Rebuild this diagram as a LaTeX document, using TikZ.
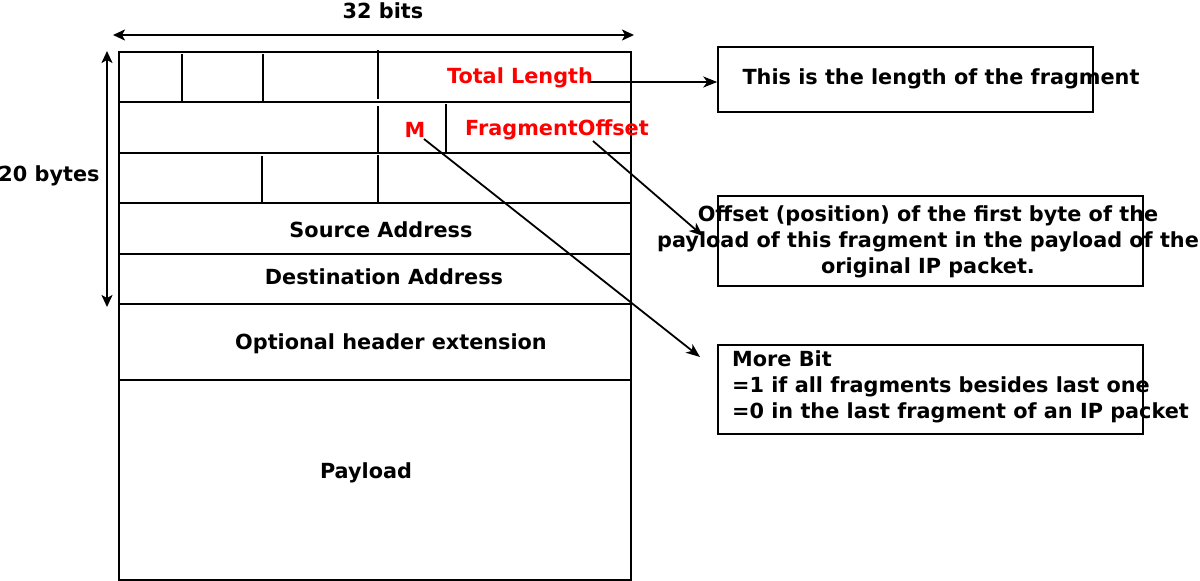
\documentclass[tikz,border=0pt]{standalone}
\usepackage{fontspec}
\setmainfont{DejaVu Sans}
\usetikzlibrary{arrows.meta}
\begin{document}
\begin{tikzpicture}[x=1pt,y=-1pt,
  grid/.style={line width=2pt,draw=black},
  lbl/.style={font=\bfseries\fontsize{20.8}{26}\selectfont,inner sep=0pt,yshift=-2pt},
  red lbl/.style={lbl,text=red},
  info/.style={draw=black,line width=1.5pt},
  ptr/.style={line width=1.8pt,-{Stealth[length=14pt,width=11pt,inset=4pt]}},
  dim/.style={line width=1.8pt,{Stealth[length=12pt,width=11pt,inset=3pt]}-{Stealth[length=12pt,width=11pt,inset=3pt]}}]
\useasboundingbox (0,0) rectangle (1200,581);
% main frame
\draw[grid] (119,52) rectangle (631,580);
\foreach \y in {102,153,203,254,304,380}{\draw[grid] (119,\y) -- (631,\y);}
% row 1 dividers
\draw[grid] (182,54) -- (182,102);
\draw[grid] (263,54) -- (263,102);
\draw[line width=2.6pt] (378,50) -- (378,99);
\draw[line width=2.6pt] (378,52) -- (631,52) -- (631,102) -- (378,102);
% row 2 dividers
\draw[grid] (378,106) -- (378,153);
\draw[grid] (446,104) -- (446,152);
% row 3 dividers
\draw[grid] (262,156) -- (262,203);
\draw[grid] (378,155) -- (378,203);
% dimension arrows
\coordinate (w1) at (113,35); \coordinate (w2) at (634,35);
\draw[dim] (w1) -- (w2);
\node[lbl] (bits) at (383,9) {32 bits};
\coordinate (h1) at (107,51); \coordinate (h2) at (107,307);
\draw[dim] (h1) -- (h2);
\node[lbl] (bytes) at (49,174) {20 bytes};
% field labels
\node[red lbl] (tl) at (520,76) {Total Length};
\node[red lbl] (m) at (415,128) {M};
\node[red lbl] (fo) at (557,128) {FragmentOffset};
\node[lbl] (src) at (381,228) {Source Address};
\node[lbl] (dst) at (384,275) {Destination Address};
\node[lbl] (opt) at (391,342) {Optional header extension};
\node[lbl] (pay) at (366,471) {Payload};
% info boxes
\node[info,minimum width=375pt,minimum height=65pt,inner sep=0pt] (b1) at (905.5,79.5) {};
\node[lbl] (t1) at (941,77) {This is the length of the fragment};
\node[info,minimum width=425pt,minimum height=90pt,inner sep=0pt] (b2) at (930.5,241) {};
\node[lbl,align=center] (t2) at (928,240) {Offset (position) of the first byte of the\\payload of this fragment in the payload of the\\original IP packet.};
\node[info,minimum width=425pt,minimum height=89pt,inner sep=0pt] (b3) at (930.5,389.5) {};
\node[lbl,align=left,anchor=west] (t3) at (732,385) {More Bit\\=1 if all fragments besides last one\\=0 in the last fragment of an IP packet};
% pointer start points
\coordinate (tlp) at (590,82);
\coordinate (fop) at (593,141);
\coordinate (mp) at (424,139);
\draw[ptr] (tlp) -- (b1.west |- tlp);
\draw[ptr] (fop) -- (703,236);
\draw[ptr] (mp) -- (700,357);
\end{tikzpicture}
\end{document}
